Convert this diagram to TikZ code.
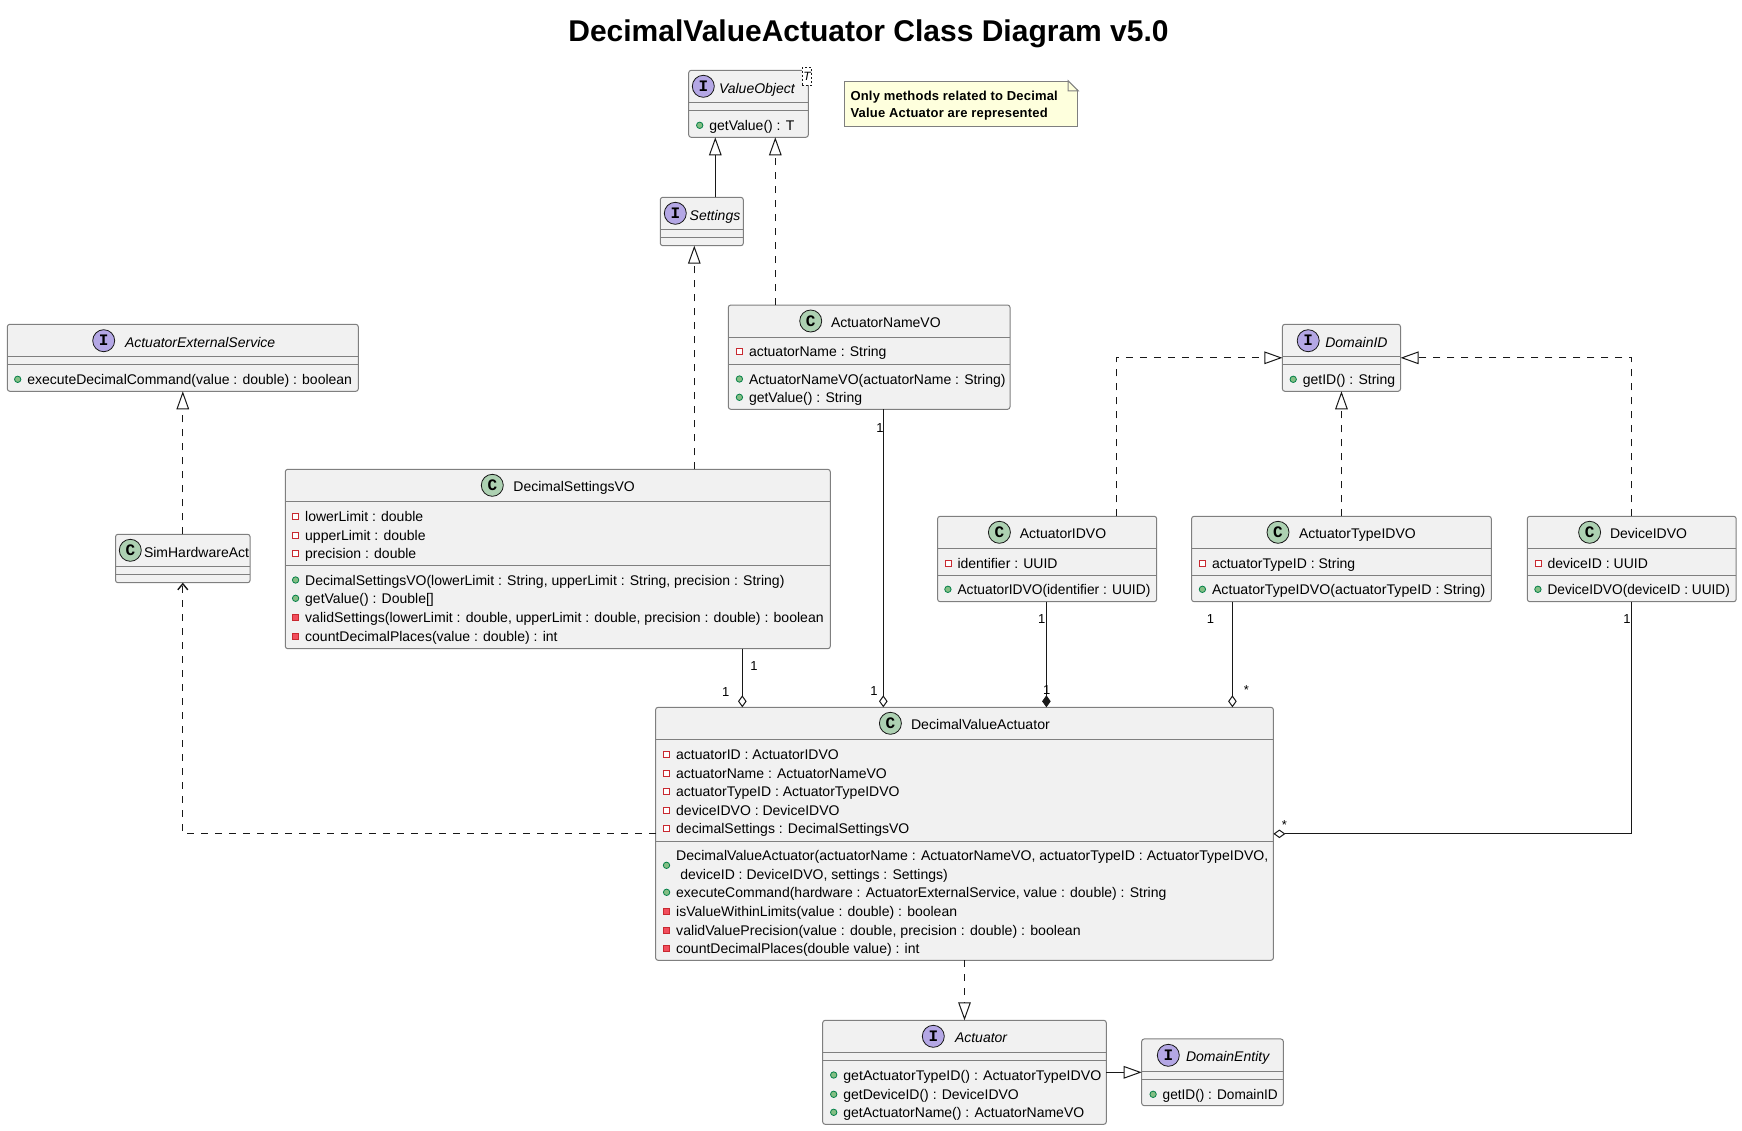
\documentclass[tikz,border=0pt]{standalone}
\usepackage{fontspec}
\setmainfont{Liberation Sans}
\setmonofont{Liberation Mono}
\usetikzlibrary{arrows.meta,positioning}

\definecolor{boxfill}{HTML}{F1F1F1}
\definecolor{boxline}{HTML}{7F7F7F}
\definecolor{edgeline}{HTML}{181818}
\definecolor{ifacefill}{HTML}{B4A7E5}
\definecolor{classfill}{HTML}{ADD1B2}
\definecolor{notefill}{HTML}{FEFFDD}
\definecolor{pubfill}{HTML}{84BE84}
\definecolor{publine}{HTML}{038048}
\definecolor{privfill}{HTML}{F24D5C}
\definecolor{privline}{HTML}{C82930}

\tikzset{
  classbox/.style={draw=boxline, fill=boxfill, line width=1pt, rounded corners=2.5pt, inner sep=0pt, outer sep=0pt},
  sepline/.style={draw=boxline, line width=1pt},
  ifaceicon/.style={circle, draw=edgeline, fill=ifacefill, line width=.8pt, minimum size=22pt, inner sep=0pt, font=\fontsize{16}{16}\ttfamily\bfseries},
  classicon/.style={ifaceicon, fill=classfill},
  rowtext/.style={anchor=west, inner sep=0pt, outer sep=0pt, text height=13pt, text depth=3pt, font=\fontsize{14}{16}\selectfont, text=black},
  classname/.style={rowtext, yshift=-1.3pt},
  ifacename/.style={rowtext, yshift=-1.3pt, font=\fontsize{14}{16}\itshape},
  fitx/.style={xscale=#1, transform shape},
  markpub/.style={circle, draw=publine, fill=pubfill, line width=.8pt, minimum size=6.4pt, inner sep=0pt, label distance=6pt},
  markpriv/.style={rectangle, draw=privline, fill=white, line width=.9pt, minimum size=6pt, inner sep=0pt, label distance=6pt},
  markprivm/.style={markpriv, fill=privfill},
  pubrow/.style={rowtext, label={[markpub]left:}},
  fieldrow/.style={rowtext, label={[markpriv]left:}},
  privrow/.style={rowtext, label={[markprivm]left:}},
  mult/.style={inner sep=0pt, font=\fontsize{13}{15}\selectfont},
  notetext/.style={anchor=west, inner sep=0pt, text height=10pt, text depth=3pt, font=\fontsize{13}{15}\bfseries\addfontfeature{LetterSpace=1.5}},
  extends/.style={draw=edgeline, line width=1pt, -{Triangle[open, fill=white, length=18pt, width=12.6pt]}},
  realizes/.style={extends, dash pattern=on 7pt off 7pt},
  dependson/.style={draw=edgeline, line width=1pt, dash pattern=on 7pt off 7pt, -{Straight Barb[length=6pt, width=10pt, line width=1.4pt]}},
  aggregates/.style={draw=edgeline, line width=1pt, -{Diamond[open, fill=white, length=12pt, width=8.6pt]}},
  composes/.style={draw=edgeline, line width=1pt, -{Diamond[length=12pt, width=8.6pt]}}
}

\begin{document}
\begin{tikzpicture}[x=1pt, y=-1pt]
  \useasboundingbox (0,0) rectangle (1742,1130);

  \node[anchor=base, inner sep=0pt, font=\fontsize{30}{34}\bfseries] (title) at (868.5,41.7) {DecimalValueActuator Class Diagram v5.0};

  % interfaces and classes
  \node[classbox, minimum width=119.6pt, minimum height=67pt]  (valueObject) at (748.5,103.8) {};
  \node[classbox, minimum width=83pt,    minimum height=48.4pt] (settings)   at (701.8,221.5) {};
  \node[classbox, minimum width=281.7pt, minimum height=104.3pt] (nameVO)    at (869.15,357.15) {};
  \node[classbox, minimum width=351pt,   minimum height=67pt]  (extService)  at (182.8,357.8) {};
  \node[classbox, minimum width=134.6pt, minimum height=48.4pt] (simHw)      at (182.8,558.5) {};
  \node[classbox, minimum width=545pt,   minimum height=179.4pt] (settingsVO) at (557.8,559) {};
  \node[classbox, minimum width=118.1pt, minimum height=67pt]  (domainID)    at (1341.45,357.8) {};
  \node[classbox, minimum width=219.1pt, minimum height=85.4pt] (idVO)       at (1047.15,559) {};
  \node[classbox, minimum width=299.7pt, minimum height=85.4pt] (typeVO)     at (1341.45,559) {};
  \node[classbox, minimum width=208.9pt, minimum height=85.4pt] (deviceVO)   at (1631.75,559) {};
  \node[classbox, minimum width=617.8pt, minimum height=253pt] (dva)         at (964.5,833.8) {};
  \node[classbox, minimum width=283.6pt, minimum height=104pt] (actuator)    at (964.5,1072.3) {};
  \node[classbox, minimum width=141.6pt, minimum height=66.7pt] (entity)     at (1212.5,1072.3) {};

  % compartment lines
  \draw[sepline] (valueObject.west |- 0,102.3) -- (valueObject.east |- 0,102.3);
  \draw[sepline] (valueObject.west |- 0,110.3) -- (valueObject.east |- 0,110.3);
  \draw[sepline] (settings.west |- 0,229.3) -- (settings.east |- 0,229.3);
  \draw[sepline] (settings.west |- 0,237.3) -- (settings.east |- 0,237.3);
  \draw[sepline] (nameVO.west |- 0,337.3) -- (nameVO.east |- 0,337.3);
  \draw[sepline] (nameVO.west |- 0,364.3) -- (nameVO.east |- 0,364.3);
  \draw[sepline] (extService.west |- 0,356.3) -- (extService.east |- 0,356.3);
  \draw[sepline] (extService.west |- 0,364.3) -- (extService.east |- 0,364.3);
  \draw[sepline] (simHw.west |- 0,566.3) -- (simHw.east |- 0,566.3);
  \draw[sepline] (simHw.west |- 0,574.3) -- (simHw.east |- 0,574.3);
  \draw[sepline] (settingsVO.west |- 0,501.7) -- (settingsVO.east |- 0,501.7);
  \draw[sepline] (settingsVO.west |- 0,565.7) -- (settingsVO.east |- 0,565.7);
  \draw[sepline] (domainID.west |- 0,356.3) -- (domainID.east |- 0,356.3);
  \draw[sepline] (domainID.west |- 0,364.3) -- (domainID.east |- 0,364.3);
  \draw[sepline] (idVO.west |- 0,548.3) -- (idVO.east |- 0,548.3);
  \draw[sepline] (idVO.west |- 0,575.3) -- (idVO.east |- 0,575.3);
  \draw[sepline] (typeVO.west |- 0,548.3) -- (typeVO.east |- 0,548.3);
  \draw[sepline] (typeVO.west |- 0,575.3) -- (typeVO.east |- 0,575.3);
  \draw[sepline] (deviceVO.west |- 0,548.3) -- (deviceVO.east |- 0,548.3);
  \draw[sepline] (deviceVO.west |- 0,575.3) -- (deviceVO.east |- 0,575.3);
  \draw[sepline] (dva.west |- 0,739.3) -- (dva.east |- 0,739.3);
  \draw[sepline] (dva.west |- 0,841.3) -- (dva.east |- 0,841.3);
  \draw[sepline] (actuator.west |- 0,1052.3) -- (actuator.east |- 0,1052.3);
  \draw[sepline] (actuator.west |- 0,1060.3) -- (actuator.east |- 0,1060.3);
  \draw[sepline] (entity.west |- 0,1071.3) -- (entity.east |- 0,1071.3);
  \draw[sepline] (entity.west |- 0,1079.3) -- (entity.east |- 0,1079.3);

  % headers
  \node[ifaceicon] (iconVO) at (703.3,86.3) {I};
  \node[ifacename] (nameValueObject) at (719,87) {ValueObject};
  \node[draw=edgeline, fill=white, line width=.7pt, dash pattern=on 2pt off 2pt, minimum width=9.4pt, minimum height=18pt, inner sep=0pt, font=\fontsize{12}{12}\itshape] (genericT) at (807,76.3) {T};
  \node[ifaceicon] (iconSettings) at (675.3,213.3) {I};
  \node[ifacename] (nameSettings) at (689.7,214) {Settings};
  \node[classicon] (iconNameVO) at (810.7,321) {C};
  \node[classname] (nameNameVO) at (831,321) {ActuatorNameVO};
  \node[ifaceicon] (iconExt) at (103.7,340.7) {I};
  \node[ifacename] (nameExt) at (125,340.7) {ActuatorExternalService};
  \node[classicon] (iconSim) at (130.3,550.3) {C};
  \node[classname] (nameSim) at (144,551) {SimHardwareAct};
  \node[classicon] (iconSetVO) at (492.3,485.3) {C};
  \node[classname] (nameSetVO) at (513.4,485.3) {DecimalSettingsVO};
  \node[ifaceicon] (iconDomain) at (1308.2,340.7) {I};
  \node[ifacename] (nameDomain) at (1325.3,340.7) {DomainID};
  \node[classicon] (iconId) at (999.4,532.3) {C};
  \node[classname] (nameId) at (1019.8,532.3) {ActuatorIDVO};
  \node[classicon] (iconType) at (1278,532.3) {C};
  \node[classname] (nameType) at (1299,532.3) {ActuatorTypeIDVO};
  \node[classicon] (iconDevice) at (1589.6,532.3) {C};
  \node[classname] (nameDevice) at (1610,532.3) {DeviceIDVO};
  \node[classicon] (iconDva) at (890.4,723.3) {C};
  \node[classname, fitx=1.01] (nameDva) at (911,723.3) {DecimalValueActuator};
  \node[ifaceicon] (iconAct) at (933.3,1036.3) {I};
  \node[ifacename] (nameAct) at (955,1036.3) {Actuator};
  \node[ifaceicon] (iconEnt) at (1168.3,1055.3) {I};
  \node[ifacename] (nameEnt) at (1186,1055.3) {DomainEntity};

  % members
  \node[pubrow] (voGet) at (709.3,125.3) {getValue() : T};
  \node[fieldrow] (nmF1) at (749,351) {actuatorName : String};
  \node[pubrow] (nmM1) at (749,379) {ActuatorNameVO(actuatorName : String)};
  \node[pubrow] (nmM2) at (749,397.3) {getValue() : String};
  \node[pubrow] (extM1) at (27.3,379.3) {executeDecimalCommand(value : double) : boolean};
  \node[fieldrow] (svF1) at (305.2,516) {lowerLimit : double};
  \node[fieldrow] (svF2) at (305.2,535) {upperLimit : double};
  \node[fieldrow] (svF3) at (305.2,553.3) {precision : double};
  \node[pubrow] (svM1) at (305.2,580) {DecimalSettingsVO(lowerLimit : String, upperLimit : String, precision : String)};
  \node[pubrow] (svM2) at (305.2,598.3) {getValue() : Double[]};
  \node[privrow, fitx=1.004] (svM3) at (305.2,617) {validSettings(lowerLimit : double, upperLimit : double, precision : double) : boolean};
  \node[privrow] (svM4) at (305.2,636) {countDecimalPlaces(value : double) : int};
  \node[pubrow] (domM1) at (1302.8,379.3) {getID() : String};
  \node[fieldrow] (idF1) at (957.5,563.3) {identifier : UUID};
  \node[pubrow, fitx=.985] (idM1) at (957.5,589.3) {ActuatorIDVO(identifier : UUID)};
  \node[fieldrow] (tyF1) at (1212,563.3) {actuatorTypeID : String};
  \node[pubrow, fitx=1.015] (tyM1) at (1212,589.3) {ActuatorTypeIDVO(actuatorTypeID : String)};
  \node[fieldrow] (deF1) at (1547.5,563.3) {deviceID : UUID};
  \node[pubrow, fitx=.977] (deM1) at (1547.5,589.3) {DeviceIDVO(deviceID : UUID)};
  \node[fieldrow] (dvF1) at (676.2,754) {actuatorID : ActuatorIDVO};
  \node[fieldrow] (dvF2) at (676.2,773) {actuatorName : ActuatorNameVO};
  \node[fieldrow] (dvF3) at (676.2,791.3) {actuatorTypeID : ActuatorTypeIDVO};
  \node[fieldrow] (dvF4) at (676.2,810.3) {deviceIDVO : DeviceIDVO};
  \node[fieldrow] (dvF5) at (676.2,828.3) {decimalSettings : DecimalSettingsVO};
  \node[rowtext, fitx=1.0075] (dvM1a) at (676.2,855) {DecimalValueActuator(actuatorName : ActuatorNameVO, actuatorTypeID : ActuatorTypeIDVO,};
  \node[rowtext] (dvM1b) at (680.4,874.3) {deviceID : DeviceIDVO, settings : Settings)};
  \node[circle, draw=publine, fill=pubfill, line width=.8pt, minimum size=6.4pt, inner sep=0pt] (dvM1dot) at (666.5,865.3) {};
  \node[pubrow] (dvM2) at (676.2,892.3) {executeCommand(hardware : ActuatorExternalService, value : double) : String};
  \node[privrow] (dvM3) at (676.2,911.3) {isValueWithinLimits(value : double) : boolean};
  \node[privrow, fitx=1.01] (dvM4) at (676.2,930) {validValuePrecision(value : double, precision : double) : boolean};
  \node[privrow] (dvM5) at (676.2,948.3) {countDecimalPlaces(double value) : int};
  \node[pubrow, fitx=1.012] (acM1) at (843.3,1075) {getActuatorTypeID() : ActuatorTypeIDVO};
  \node[pubrow] (acM2) at (843.3,1094.3) {getDeviceID() : DeviceIDVO};
  \node[pubrow] (acM3) at (843.3,1112.3) {getActuatorName() : ActuatorNameVO};
  \node[pubrow, fitx=.975] (enM1) at (1162.7,1094.3) {getID() : DomainID};

  % note
  \node[draw=boxline, fill=notefill, line width=1pt, minimum width=233.4pt, minimum height=45.4pt, inner sep=0pt] (note) at (961,104) {};
  \fill[white] ([xshift=-10pt]note.north east) -- ([xshift=.8pt,yshift=.8pt]note.north east) -- ([yshift=-10pt,xshift=.8pt]note.north east) -- cycle;
  \draw[draw=boxline, line width=1pt] ([xshift=-10pt]note.north east) -- ([yshift=-10pt]note.north east) -- ([xshift=-10pt,yshift=-10pt]note.north east) -- cycle;
  \node[notetext] (noteA) at (850.3,97) {Only methods related to Decimal};
  \node[notetext] (noteB) at (850.3,114.3) {Value Actuator are represented};

  % relations
  \draw[extends] (715.3,0 |- settings.north) -- (715.3,0 |- valueObject.south);
  \draw[realizes] (775.3,0 |- nameVO.north) -- (775.3,0 |- valueObject.south);
  \draw[realizes] (694.3,0 |- settingsVO.north) -- (694.3,0 |- settings.south);
  \draw[realizes] (simHw.north) -- (extService.south);
  \draw[realizes] (1116.4,0 |- idVO.north) |- (domainID.west);
  \draw[realizes] (typeVO.north) -- (domainID.south);
  \draw[realizes] (deviceVO.north) |- (domainID.east);
  \draw[dependson] (dva.west) -| (simHw.south);
  \draw[aggregates] (742.3,0 |- settingsVO.south) -- (742.3,0 |- dva.north);
  \draw[aggregates] (883.3,0 |- nameVO.south) -- (883.3,0 |- dva.north);
  \draw[composes] (1046.4,0 |- idVO.south) -- (1046.4,0 |- dva.north);
  \draw[aggregates] (1232.4,0 |- typeVO.south) -- (1232.4,0 |- dva.north);
  \draw[aggregates] (deviceVO.south) |- (dva.east);
  \draw[realizes] (dva.south) -- (actuator.north);
  \draw[extends] (actuator.east) -- (entity.west);

  % multiplicities
  \node[mult] (m1) at (754,665.7) {1};
  \node[mult] (m2) at (725.8,692.3) {1};
  \node[mult] (m3) at (880,428) {1};
  \node[mult] (m4) at (874,691.5) {1};
  \node[mult] (m5) at (1041.8,619.3) {1};
  \node[mult] (m6) at (1046.8,690) {1};
  \node[mult] (m7) at (1210.4,619.3) {1};
  \node[mult] (m8) at (1246.4,690) {*};
  \node[mult] (m9) at (1627,619.3) {1};
  \node[mult] (m10) at (1284.4,825) {*};
\end{tikzpicture}
\end{document}
